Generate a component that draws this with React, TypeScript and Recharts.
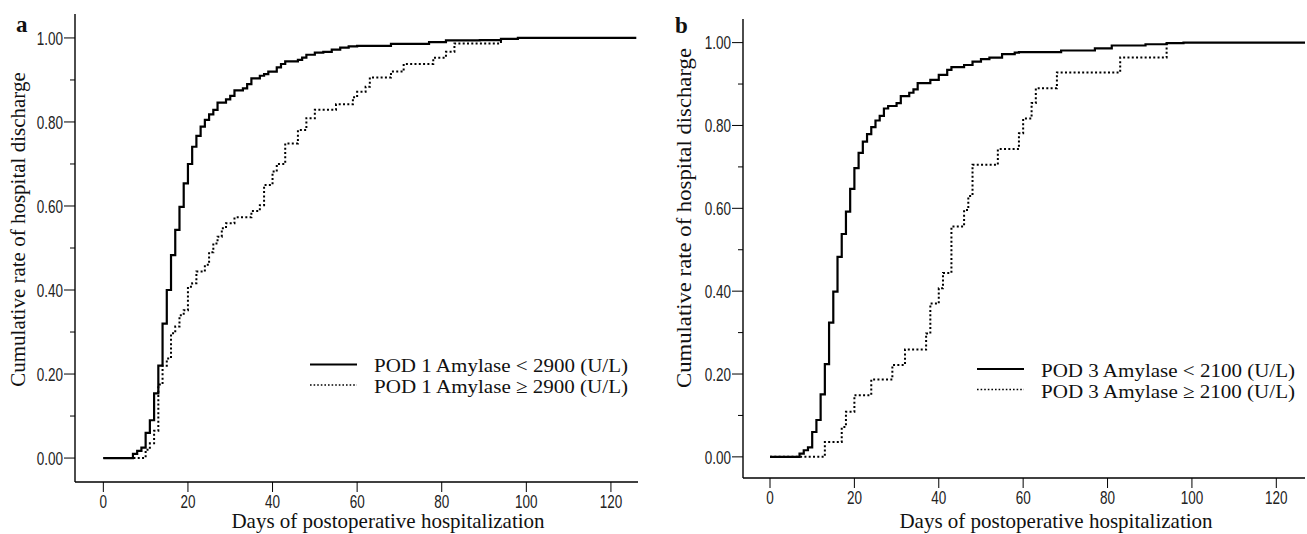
import React from 'react';
import { LineChart, Line, XAxis, YAxis } from 'recharts';

// tick values shared by both panels
const xTicks = [0, 20, 40, 60, 80, 100, 120];
const yTicks = [0, 0.1, 0.2, 0.3, 0.4, 0.5, 0.6, 0.7, 0.8, 0.9, 1.0];

// panel a: POD 1 amylase
const aLowDays = [0, 7, 8, 9, 10, 11, 12, 13, 14, 15, 16, 17, 18, 19, 20, 21, 22, 23, 24, 25, 26, 27, 29, 30, 31, 33, 34, 35, 37, 38, 39, 41, 42, 43, 46, 47, 48, 50, 52, 54, 56, 58, 60, 68, 77, 81, 89, 94, 98, 126];
const aLowRates = [0, 0.01, 0.017, 0.025, 0.06, 0.09, 0.154, 0.22, 0.32, 0.4, 0.483, 0.543, 0.598, 0.654, 0.7, 0.741, 0.767, 0.789, 0.805, 0.818, 0.829, 0.846, 0.854, 0.862, 0.875, 0.88, 0.89, 0.904, 0.91, 0.914, 0.92, 0.93, 0.938, 0.944, 0.948, 0.953, 0.96, 0.965, 0.967, 0.972, 0.977, 0.98, 0.981, 0.986, 0.99, 0.994, 0.995, 0.998, 1.0, 1.0];
const aHighDays = [0, 10, 11, 12, 13, 14, 15, 16, 17, 18, 19, 20, 21, 22, 24, 25, 26, 27, 28, 29, 31, 35, 37, 38, 40, 41, 43, 46, 48, 50, 55, 59, 60, 62, 63, 68, 71, 78, 81, 83, 94];
const aHighRates = [0, 0.02, 0.035, 0.065, 0.175, 0.22, 0.237, 0.297, 0.313, 0.34, 0.352, 0.408, 0.416, 0.444, 0.46, 0.49, 0.511, 0.527, 0.547, 0.559, 0.573, 0.588, 0.602, 0.65, 0.682, 0.7, 0.749, 0.781, 0.809, 0.829, 0.842, 0.859, 0.872, 0.884, 0.906, 0.92, 0.938, 0.953, 0.967, 0.987, 0.998];

// panel b: POD 3 amylase
const bLowDays = [0, 7, 8, 9, 10, 11, 12, 13, 14, 15, 16, 17, 18, 19, 20, 21, 22, 23, 24, 25, 26, 27, 28, 30, 31, 33, 34, 35, 38, 40, 42, 43, 46, 48, 50, 52, 55, 58, 59, 69, 77, 81, 89, 94, 98, 127];
const bLowRates = [0, 0.008, 0.016, 0.023, 0.06, 0.089, 0.151, 0.224, 0.324, 0.399, 0.483, 0.538, 0.592, 0.647, 0.697, 0.734, 0.761, 0.779, 0.796, 0.812, 0.823, 0.841, 0.847, 0.854, 0.871, 0.879, 0.887, 0.902, 0.91, 0.922, 0.934, 0.941, 0.946, 0.954, 0.96, 0.964, 0.972, 0.976, 0.977, 0.981, 0.986, 0.993, 0.996, 0.999, 1.0, 1.0];
const bHighDays = [0, 13, 17, 18, 20, 24, 29, 32, 37, 38, 40, 41, 43, 46, 47, 48, 54, 59, 60, 62, 63, 68, 83, 94];
const bHighRates = [0, 0.036, 0.072, 0.109, 0.149, 0.187, 0.222, 0.259, 0.298, 0.37, 0.407, 0.444, 0.556, 0.596, 0.63, 0.705, 0.743, 0.781, 0.817, 0.854, 0.89, 0.928, 0.964, 0.999];

const toPoints = (days: number[], rates: number[]) =>
  days.map((day, i) => ({ day, rate: rates[i] }));

const SERIF = '"Liberation Serif", "Times New Roman", serif';
const SANS = '"Liberation Sans", Arial, sans-serif';

const YTick = (props: any) => {
  const { y, payload, axisX } = props;
  const major = Math.round(payload.value * 10) % 2 === 0;
  return (
    <g>
      <line x1={major ? axisX - 11 : axisX - 5} x2={axisX} y1={y} y2={y} stroke="#000" strokeWidth={1} />
      {major && (
        <text
          transform={`translate(${axisX - 12},${y}) scale(1,1.35)`}
          textAnchor="end"
          dominantBaseline="central"
          fontFamily={SANS}
          fontSize={13.5}
          fill="#222"
        >
          {payload.value.toFixed(2)}
        </text>
      )}
    </g>
  );
};

const XTick = (props: any) => {
  const { x, payload, axisY } = props;
  return (
    <g>
      <line x1={x} x2={x} y1={axisY} y2={axisY + 10} stroke="#000" strokeWidth={1} />
      <text
        transform={`translate(${x},${axisY + 19}) scale(1,1.35)`}
        textAnchor="middle"
        dominantBaseline="central"
        fontFamily={SANS}
        fontSize={13.5}
        fill="#222"
      >
        {payload.value}
      </text>
    </g>
  );
};

interface PanelProps {
  low: { day: number; rate: number }[];
  high: { day: number; rate: number }[];
  width: number;
  height: number;
  axisW: number;
  axisH: number;
  top: number;
  right: number;
  xDomain: [number, number];
  yDomain: [number, number];
}

const Panel: React.FC<PanelProps> = ({ low, high, width, height, axisW, axisH, top, right, xDomain, yDomain }) => {
  const axisY = height - axisH;
  const box = { stroke: '#000', strokeWidth: 1.4 };
  return (
    <LineChart width={width} height={height} margin={{ top, right, left: 0, bottom: 0 }}>
      <XAxis
        type="number"
        dataKey="day"
        domain={xDomain}
        ticks={xTicks}
        allowDataOverflow
        height={axisH}
        axisLine={box}
        tickLine={false}
        tick={(p: any) => <XTick {...p} axisY={axisY} />}
        interval={0}
      />
      <XAxis xAxisId="top" orientation="top" type="number" domain={xDomain} allowDataOverflow height={0} axisLine={box} tick={false} tickLine={false} />
      <YAxis
        type="number"
        domain={yDomain}
        ticks={yTicks}
        allowDataOverflow
        width={axisW}
        axisLine={box}
        tickLine={false}
        tick={(p: any) => <YTick {...p} axisX={axisW} />}
        interval={0}
      />
      <YAxis yAxisId="right" orientation="right" type="number" domain={yDomain} allowDataOverflow width={0} axisLine={box} tick={false} tickLine={false} />
      <Line data={low} dataKey="rate" type="stepAfter" stroke="#000" strokeWidth={2.2} dot={false} isAnimationActive={false} />
      <Line data={high} dataKey="rate" type="stepAfter" stroke="#000" strokeWidth={2} strokeDasharray="2 2.3" dot={false} isAnimationActive={false} />
    </LineChart>
  );
};

const LegendBlock: React.FC<{ x: number; y: number; pod: string; cut: string }> = ({ x, y, pod, cut }) => (
  <g fontFamily={SERIF} fontSize={19.5} fill="#111">
    <line x1={x} x2={x + 47} y1={y} y2={y} stroke="#000" strokeWidth={2.2} />
    <line x1={x} x2={x + 47} y1={y + 20.5} y2={y + 20.5} stroke="#000" strokeWidth={1.6} strokeDasharray="1.6 2" />
    <text x={x + 64} y={y + 7.5} textLength={254} lengthAdjust="spacingAndGlyphs">{`POD ${pod} Amylase < ${cut} (U/L)`}</text>
    <text x={x + 64} y={y + 28.5} textLength={254} lengthAdjust="spacingAndGlyphs">{`POD ${pod} Amylase \u2265 ${cut} (U/L)`}</text>
  </g>
);

export default function App() {
  return (
    <div style={{ position: 'absolute', left: 0, top: 0, width: 1307, height: 534, background: '#fff' }}>
      <div style={{ position: 'absolute', left: 0, top: 0 }}>
        <Panel
          low={toPoints(aLowDays, aLowRates)}
          high={toPoints(aHighDays, aHighRates)}
          width={660}
          height={534}
          axisW={75}
          axisH={52}
          top={14}
          right={22}
          xDomain={[-6.7, 126.4]}
          yDomain={[-0.057, 1.057]}
        />
      </div>
      <div style={{ position: 'absolute', left: 660, top: 0 }}>
        <Panel
          low={toPoints(bLowDays, bLowRates)}
          high={toPoints(bHighDays, bHighRates)}
          width={647}
          height={534}
          axisW={83}
          axisH={56}
          top={19}
          right={2}
          xDomain={[-6.4, 126.8]}
          yDomain={[-0.051, 1.057]}
        />
      </div>
      <svg width={1307} height={534} style={{ position: 'absolute', left: 0, top: 0, pointerEvents: 'none' }}>
        <text x={16} y={32} fontFamily={SERIF} fontWeight="bold" fontSize={23} fill="#111">a</text>
        <text x={675} y={33} fontFamily={SERIF} fontWeight="bold" fontSize={23} fill="#111">b</text>
        <text transform="translate(25,229.5) rotate(-90)" textAnchor="middle" fontFamily={SERIF} fontSize={21} fill="#111">
          Cumulative rate of hospital discharge
        </text>
        <text transform="translate(691,218) rotate(-90)" textAnchor="middle" fontFamily={SERIF} fontSize={21} fill="#111" textLength={340} lengthAdjust="spacingAndGlyphs">
          Cumulative rate of hospital discharge
        </text>
        <text x={388} y={528} textAnchor="middle" fontFamily={SERIF} fontSize={21} fill="#111">
          Days of postoperative hospitalization
        </text>
        <text x={1056} y={528} textAnchor="middle" fontFamily={SERIF} fontSize={21} fill="#111">
          Days of postoperative hospitalization
        </text>
        <LegendBlock x={310} y={364.5} pod="1" cut="2900" />
        <LegendBlock x={977} y={369} pod="3" cut="2100" />
      </svg>
    </div>
  );
}
